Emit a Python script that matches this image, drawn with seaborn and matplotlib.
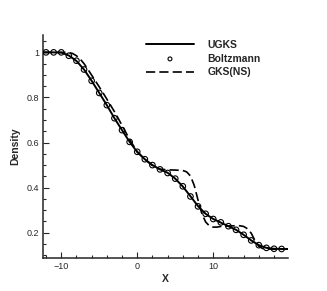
import numpy as np
import matplotlib
matplotlib.use("Agg")
import matplotlib.pyplot as plt
import seaborn as sns

# UGKS solution (solid line)
ugks_x = [-12.4, -11, -10, -9, -8, -7, -6, -5, -4, -3, -2, -1, 0, 1, 2, 3, 4, 5,
          6, 7, 8, 9, 10, 11, 12, 13, 14, 15, 16, 17, 18, 19, 19.8]
ugks_rho = [1.0, 1.0, 0.999, 0.986, 0.962, 0.924, 0.874, 0.820, 0.766, 0.708, 0.655,
            0.603, 0.558, 0.526, 0.500, 0.481, 0.466, 0.440, 0.405, 0.362, 0.318,
            0.284, 0.261, 0.245, 0.229, 0.213, 0.191, 0.166, 0.145, 0.133, 0.129,
            0.128, 0.128]

# Boltzmann reference (circles)
boltz_x = [-12, -11, -10, -9, -8, -7, -6, -5, -4, -3, -2, -1, 0, 1, 2, 3, 4, 5,
           6, 7, 8, 9, 10, 11, 12, 13, 14, 15, 16, 17, 18, 19]
boltz_rho = [1.0, 1.0, 1.0, 0.985, 0.963, 0.924, 0.874, 0.820, 0.766, 0.708, 0.655,
             0.603, 0.559, 0.526, 0.500, 0.481, 0.465, 0.440, 0.406, 0.361, 0.317,
             0.284, 0.261, 0.246, 0.229, 0.213, 0.191, 0.166, 0.145, 0.133, 0.129,
             0.128]

# GKS (Navier-Stokes) solution (dashed line)
gks_x = [-12.4, -9.5, -9, -8.5, -8, -7.5, -7, -6.5, -6, -5.5, -5, -4.5, -4, -3.5,
         -3, -2.5, -2, -1.5, -1, 0, 1, 2, 3, 4, 5, 6, 6.5, 7, 7.5, 8, 8.5, 9, 9.5,
         10, 10.5, 11, 12, 13, 13.5, 14, 14.5, 15, 15.5, 16, 16.5, 17, 18, 19.8]
gks_rho = [1.0, 1.0, 0.999, 0.995, 0.985, 0.970, 0.950, 0.925, 0.899, 0.873, 0.847,
           0.820, 0.793, 0.765, 0.737, 0.707, 0.676, 0.645, 0.613, 0.560, 0.525,
           0.498, 0.482, 0.479, 0.478, 0.476, 0.470, 0.452, 0.410, 0.345, 0.285,
           0.248, 0.230, 0.225, 0.225, 0.228, 0.230, 0.231, 0.231, 0.228, 0.218,
           0.198, 0.165, 0.140, 0.130, 0.128, 0.127, 0.127]

sns.set_style("ticks")
plt.rcParams["font.family"] = ["Liberation Sans", "DejaVu Sans"]

fig = plt.figure(figsize=(3.27, 2.91), dpi=100)
ax = fig.add_axes([0.1315, 0.1134, 0.7483, 0.7663])

sns.lineplot(x=ugks_x, y=ugks_rho, ax=ax, color="black", lw=1.4, label="UGKS")
sns.scatterplot(x=boltz_x, y=boltz_rho, ax=ax, marker="o", s=16, facecolor="none",
                edgecolor="black", linewidth=0.8, label="Boltzmann", zorder=3)
sns.lineplot(x=gks_x, y=gks_rho, ax=ax, color="black", lw=1.2, label="GKS(NS)")
ax.lines[-1].set_dashes([5.5, 2.5])

ax.set_xlim(-12.4, 19.8)
ax.set_ylim(0.088, 1.077)
ax.set_xticks([-10, 0, 10])
ax.set_xticks(np.arange(-12, 20, 2), minor=True)
ax.set_yticks([0.2, 0.4, 0.6, 0.8, 1.0])
ax.set_yticklabels(["0.2", "0.4", "0.6", "0.8", "1"])
ax.set_yticks(np.arange(0.1, 1.07, 0.05), minor=True)
ax.tick_params(which="both", direction="in", labelsize=6.5, width=0.8, pad=3)
ax.tick_params(which="major", length=4)
ax.tick_params(which="minor", length=2)
for s in ["left", "bottom"]:
    ax.spines[s].set_linewidth(1.1)
sns.despine(ax=ax)

ax.set_xlabel("X", fontsize=7.5, fontweight="bold", labelpad=2)
ax.set_ylabel("Density", fontsize=7.5, fontweight="bold", labelpad=4)

leg = ax.legend(loc="upper left", bbox_to_anchor=(146 / 327, 1 - 40 / 291),
                bbox_transform=fig.transFigure, frameon=False, markerscale=0.7,
                prop={"weight": "bold", "size": 7.5}, handlelength=4.6,
                handletextpad=1.3, labelspacing=0.35, borderpad=0, borderaxespad=0)

fig.savefig("out.png", dpi=100)
